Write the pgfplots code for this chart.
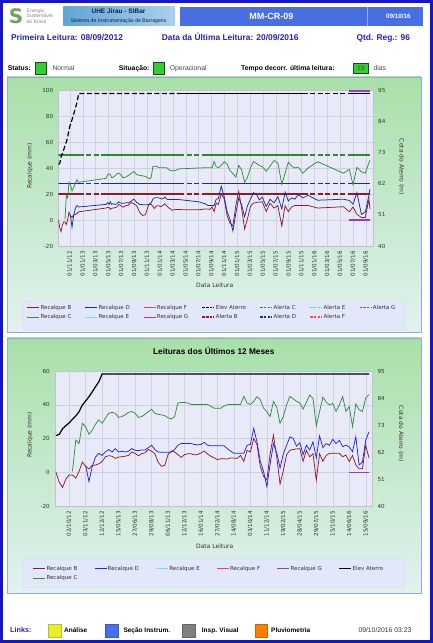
\documentclass[border=0pt]{standalone}
\usepackage{pgfplots}
\pgfplotsset{compat=1.18}
\usepackage{pgfplotstable}
\usepackage{fontspec}
\setmainfont{DejaVu Sans}
\newfontfamily\arial{Liberation Sans}
\newcommand\fs[1]{\fontsize{#1}{#1}\selectfont}

\definecolor{frameblue}{RGB}{22,22,200}
\definecolor{hdrtext}{RGB}{35,35,195}
\definecolor{boxblue}{RGB}{72,110,228}
\definecolor{uheL}{RGB}{95,165,215}
\definecolor{uheR}{RGB}{170,208,236}
\definecolor{navy}{RGB}{20,30,70}
\definecolor{panTop}{RGB}{168,224,168}
\definecolor{panMid}{RGB}{208,236,214}
\definecolor{panBot}{RGB}{226,241,240}
\definecolor{panEdge}{RGB}{150,172,205}
\definecolor{plotbg}{RGB}{232,235,247}
\definecolor{gridc}{RGB}{206,209,224}
\definecolor{axisc}{RGB}{190,194,210}
\definecolor{legbg}{RGB}{226,231,249}
\definecolor{legedge}{RGB}{205,212,236}
\definecolor{tickc}{RGB}{50,50,50}
\definecolor{stgreen}{RGB}{50,205,50}
\definecolor{cB}{RGB}{140,28,42}
\definecolor{cC}{RGB}{52,140,62}
\definecolor{cD}{RGB}{30,45,150}
\definecolor{cDb}{RGB}{35,35,240}
\definecolor{cE}{RGB}{120,222,240}
\definecolor{cF}{RGB}{240,70,70}
\definecolor{cG}{RGB}{150,60,200}
\definecolor{aB}{RGB}{140,28,42}
\definecolor{aC}{RGB}{40,140,40}
\definecolor{aD}{RGB}{30,40,150}
\definecolor{aE}{RGB}{70,210,225}
\definecolor{aF}{RGB}{250,70,100}
\definecolor{aG}{RGB}{160,50,200}
\definecolor{lkyellow}{RGB}{230,240,40}
\definecolor{lkblue}{RGB}{74,110,240}
\definecolor{lkgray}{RGB}{128,128,128}
\definecolor{lkorange}{RGB}{255,128,0}
\definecolor{logog}{RGB}{125,138,138}

\pgfplotstableread{
i m B C D E G
0 0.23 0 nan nan 68.7 nan
1 0.43 -6 nan nan 69.2 nan
2 0.63 -9 nan nan 71.5 nan
3 0.83 -4 nan nan 72.7 nan
4 1.03 -1.6 nan nan 73.9 nan
5 1.24 -1.6 0.5 nan 75.3 nan
6 1.45 -3.5 19 nan 76.7 nan
7 1.66 0.5 17 nan 78.4 nan
8 1.86 6 29 nan 81.1 nan
9 2.07 3.5 27 4 82.8 nan
10 2.33 2 22.5 -5.5 84.5 nan
11 2.59 4 25 3.5 86.5 nan
12 2.85 4.3 28.5 9 88.6 nan
13 3.11 5 31 11.2 90.6 nan
14 3.37 6.3 29 10 93.8 nan
15 7.60 9.2 32 12 93.8 nan
16 7.90 9.8 35 13.5 93.8 nan
17 8.10 9.5 35.5 12 93.8 nan
18 8.30 8.2 35 14 93.8 nan
19 8.47 9 32.5 12 93.8 nan
20 8.75 9.2 33 12.5 93.8 nan
21 9.03 9.5 34 12 93.8 nan
22 9.31 10 35.5 12.5 93.8 nan
23 9.59 12 36 14 93.8 nan
24 9.87 11.2 35 13 93.8 nan
25 10.28 9.8 32.5 12.8 93.8 nan
26 10.69 11 33 13.2 93.8 nan
27 11.10 11.5 34.3 13.2 93.8 nan
28 11.52 13.5 35.9 14.5 93.8 nan
29 11.93 12.5 37.3 16 93.8 nan
30 12.38 11 35 13.5 93.8 nan
31 12.83 6 34.3 12 93.8 nan
32 13.28 3.5 34 11.8 93.8 nan
33 13.72 4 33.5 11.8 93.8 nan
34 14.17 10.5 32.3 11.8 93.8 nan
35 14.41 12.6 31.6 12 93.8 nan
36 14.65 12 33 13.5 93.8 nan
37 14.89 10.5 41 16 93.8 nan
38 15.13 8.8 41.4 17 93.8 nan
39 15.37 10.4 41.4 17.1 93.8 nan
40 15.60 11 41 17.1 93.8 nan
41 15.82 11 40.2 17 93.8 nan
42 16.05 10.3 40.2 16.5 93.8 nan
43 16.27 10.5 40.2 16.2 93.8 nan
44 16.50 11.5 40.2 16.5 93.8 nan
45 16.77 12.5 40.2 17.7 93.8 nan
46 17.05 10.8 40.2 16 93.8 nan
47 17.32 9.5 39 15.7 93.8 nan
48 17.60 8.6 38 15.7 93.8 nan
49 17.87 7.5 37.9 15.7 93.8 nan
50 18.30 8 37.9 15.7 93.8 nan
51 19.00 8 39.3 15.7 93.8 nan
52 22.00 7.8 40 14 93.8 nan
53 23.00 8.5 40.2 12.5 93.8 nan
54 23.43 8.4 40.2 11.2 93.8 nan
55 23.76 8.2 40.2 11.2 93.8 nan
56 24.09 10 40.2 11.2 93.8 nan
57 24.41 6.5 45 11.2 93.8 nan
58 24.74 13 41 16 93.8 nan
59 25.07 12 40.2 16.5 93.8 nan
60 25.52 20 42 26 93.8 nan
61 25.97 16.5 44.8 18 93.8 nan
62 26.43 3.5 43 6.5 93.8 nan
63 26.88 -2.5 38 0.5 93.8 nan
64 27.33 -4.6 35.8 -8.5 93.8 nan
65 27.78 11 33 5 93.8 nan
66 28.24 22 42 17 93.8 nan
67 28.69 9 38.5 11.5 93.8 nan
68 29.15 -7 29 2.5 93.8 nan
69 29.60 1 33 11 93.8 nan
70 30.06 10.5 40 16 93.8 nan
71 30.52 13 45 21 93.8 nan
72 30.98 13.5 43.5 20 93.8 nan
73 31.44 13.8 42 15.5 93.8 nan
74 31.90 14 41 17.5 93.8 nan
75 32.51 6.5 37.5 10.5 93.8 nan
76 33.11 13 41.5 16 93.8 nan
77 33.72 9.2 45.8 13.2 93.8 nan
78 34.32 11 43.8 18 93.8 nan
79 34.93 -4.6 27.5 8.5 93.8 nan
80 35.44 11 36 21.5 93.8 nan
81 35.94 6.5 44.5 14.6 93.8 nan
82 36.45 10 41.5 17 93.8 nan
83 36.96 11.2 40 16 93.8 nan
84 37.47 11.2 40.8 19.5 93.8 nan
85 38.20 11.2 36 17 93.8 nan
86 39.00 11.2 40 19 93.8 nan
87 40.50 9.2 44.8 15.2 93.8 nan
88 44.50 10.2 36 16 93.8 nan
89 45.43 6.3 38.9 15 93.8 0
90 46.00 10 27 12.2 93.8 0
91 46.60 4.3 40.5 21 93.8 0
92 47.30 2 37 4.3 93.8 0
93 47.90 2 36 6 93.8 0
94 48.47 16 44 19 93.8 0
95 48.63 8.5 46 24 93.8 0
}\data

\pgfplotsset{
  chartbase/.style={
    scale only axis,
    axis background/.style={fill=plotbg},
    grid=major, grid style={draw=gridc, line width=0.4pt},
    axis line style={draw=axisc, line width=0.4pt},
    major tick length=0pt,
    tick style={draw=none},
    ticklabel style={font=\fs{5.6}, text=tickc, inner sep=0pt},
    xticklabel shift=5pt, yticklabel shift=5pt,
    xticklabel style={rotate=90, anchor=east},
    /pgf/number format/assume math mode=true,
  },
  rightbase/.style={
    scale only axis, axis y line*=right, axis x line=none,
    axis line style={draw=none}, major tick length=0pt, tick style={draw=none},
    ymin=40, ymax=95, ytick={40,51,62,73,84,95},
    ticklabel style={font=\fs{5.6}, text=tickc, inner sep=0pt},
    yticklabel shift=5pt,
    /pgf/number format/assume math mode=true,
  },
  datal/.style={line width=0.75pt},
  alert/.style={line width=1.2pt},
  sparse/.style={dash pattern=on 5pt off 2.5pt},
  legdash/.style={line width=1.2pt, dash pattern=on 2.5pt off 1.2pt},
  legbase/.style={
    legend cell align=left,
    legend image code/.code={\draw[##1] (0pt,0pt) -- (12pt,0pt);},
    legend style={fill=none, draw=none, font=\fs{5.5}, text=tickc,
      inner xsep=0pt, inner ysep=0pt, row sep=1.8pt, nodes={inner sep=0.8pt}},
  },
}
% alert line: dense stretches solid, sparse stretches dashed
\newcommand\alertline[2]{%
  \addplot[#1, alert, forget plot] coordinates {(0.23,#2) (3.37,#2)};
  \addplot[#1, alert, sparse, forget plot] coordinates {(3.37,#2) (7.6,#2)};
  \addplot[#1, alert, forget plot] coordinates {(7.6,#2) (19.0,#2)};
  \addplot[#1, alert, sparse, forget plot] coordinates {(19.0,#2) (23.0,#2)};
  \addplot[#1, alert, forget plot] coordinates {(23.0,#2) (38.2,#2)};
  \addplot[#1, alert, sparse, forget plot] coordinates {(38.2,#2) (45.43,#2)};
  \addplot[#1, alert, forget plot] coordinates {(45.43,#2) (48.63,#2)};
}

\begin{document}
\begin{tikzpicture}[x=1pt,y=1pt]
\path[use as bounding box] (0pt,0pt) rectangle (433pt,643pt);
\fill[white] (0pt,0pt) rectangle (433pt,643pt);

% ---------- header ----------
\node[font=\bfseries\fs{20}, text={rgb,255:red,105;green,165;blue,95}] at (16pt,627pt) {S};
\node[anchor=west, align=left, font=\arial\fontsize{5}{5.6}\selectfont, text=logog, inner sep=0pt] at (26.5pt,626.8pt) {Energia\\Sustentável\\do Brasil};
\shade[left color=uheL, right color=uheR] (63.3pt,636pt) rectangle (175pt,617.3pt);
\node[anchor=base, font=\arial\bfseries\fs{6.5}, text=navy] at (118.5pt,629pt) {UHE Jirau - SIBar};
\node[anchor=base, font=\arial\fs{5.2}, text=navy] at (118.5pt,620.6pt) {Sistema de Instrumentação de Barragens};
\fill[boxblue] (180pt,636pt) rectangle (423pt,617pt);
\draw[white!45!boxblue, line width=0.8pt] (367.3pt,636pt) -- (367.3pt,617pt);
\node[anchor=base, font=\arial\bfseries\fs{9}, text=white] at (271.3pt,623.2pt) {MM-CR-09};
\node[anchor=base, font=\arial\bfseries\fs{6.3}, text=white] at (398.3pt,624pt) {09/10/16};

\node[anchor=base west, font=\arial\bfseries\fs{8.4}, text=hdrtext] at (7.5pt,602.7pt) {Primeira Leitura: 08/09/2012};
\node[anchor=base west, font=\arial\bfseries\fs{8.4}, text=hdrtext] at (158.3pt,602.7pt) {Data da Última Leitura: 20/09/2016};
\node[anchor=base east, font=\arial\bfseries\fs{8.4}, text=hdrtext] at (413.5pt,602.7pt) {Qtd. Reg.: 96};

\node[anchor=base west, font=\arial\bfseries\fs{6.8}, inner sep=0pt] at (7.7pt,572.7pt) {Status:};
\filldraw[fill=stgreen, draw={rgb,255:red,30;green,70;blue,30}, line width=0.6pt] (35pt,580.7pt) rectangle (46pt,569pt);
\node[anchor=base west, font=\arial\fs{6.8}, text={rgb,255:red,70;green,70;blue,70}, inner sep=0pt] at (52.3pt,572.7pt) {Normal};
\node[anchor=base west, font=\arial\bfseries\fs{6.8}, inner sep=0pt] at (118.7pt,572.7pt) {Situação:};
\filldraw[fill=stgreen, draw={rgb,255:red,30;green,70;blue,30}, line width=0.6pt] (153.7pt,580.7pt) rectangle (164.3pt,569pt);
\node[anchor=base west, font=\arial\fs{6.8}, text={rgb,255:red,70;green,70;blue,70}, inner sep=0pt] at (169.7pt,572.7pt) {Operacional};
\node[anchor=base west, font=\arial\bfseries\fs{6.8}, inner sep=0pt] at (241pt,572.7pt) {Tempo decorr. última leitura:};
\filldraw[fill=stgreen, draw={rgb,255:red,30;green,70;blue,30}, line width=0.6pt] (353.3pt,580pt) rectangle (368.3pt,569.7pt);
\node[anchor=base, font=\arial\fs{6.8}, text={rgb,255:red,70;green,80;blue,20}, inner sep=0pt] at (360.8pt,572.7pt) {19};
\node[anchor=base west, font=\arial\fs{6.8}, text={rgb,255:red,70;green,70;blue,70}, inner sep=0pt] at (373.3pt,572.7pt) {dias};

% ---------- panels ----------
\shadedraw[top color=panTop, middle color=panMid, bottom color=panBot, draw=panEdge, line width=0.6pt] (7pt,566pt) rectangle (421pt,311pt);
\shadedraw[top color=panTop, middle color=panMid, bottom color=panBot, draw=panEdge, line width=0.6pt] (7pt,305pt) rectangle (421pt,50pt);
% legend boxes
\filldraw[fill=legbg, draw=legedge, line width=0.4pt, rounded corners=1.5pt] (22.7pt,342pt) rectangle (405pt,313pt);
\filldraw[fill=legbg, draw=legedge, line width=0.4pt, rounded corners=1.5pt] (23pt,84pt) rectangle (405pt,55pt);

% ---------- chart 1 ----------
\begin{axis}[chartbase, legbase,
  at={(58.3pt,397pt)}, anchor=south west, width=314.7pt, height=156pt,
  xmin=0.2, xmax=49.1, ymin=-20, ymax=100, ytick={-20,0,...,100},
  xtick={2,4,...,48},
  xticklabels={01/11/12,01/01/13,01/03/13,01/05/13,01/07/13,01/09/13,01/11/13,01/01/14,01/03/14,01/05/14,01/07/14,01/09/14,01/11/14,01/01/15,01/03/15,01/05/15,01/07/15,01/09/15,01/11/15,01/01/16,01/03/16,01/05/16,01/07/16,01/09/16},
  legend columns=7,
  legend style={at={(-0.1,-0.372)}, anchor=north west, /tikz/every even column/.append style={column sep=12.8pt}},
]
\alertline{aC}{50}
\alertline{aD}{28}
\alertline{aB}{20}
\addplot[aG, alert, forget plot] coordinates {(45.43,99.3) (48.63,99.3)};
\addplot[cC, datal, forget plot] table[x=m, y=C] {\data};
\addplot[cB, datal, forget plot] table[x=m, y=B] {\data};
\addplot[cD, datal, forget plot] table[x=m, y=D] {\data};
\addplot[cG, line width=1.2pt, forget plot] table[x=m, y=G] {\data};
\addlegendimage{cB, datal}\addlegendentry{Recalque B}
\addlegendimage{cD, datal}\addlegendentry{Recalque D}
\addlegendimage{cF, datal}\addlegendentry{Recalque F}
\addlegendimage{black, legdash}\addlegendentry{Elev Aterro}
\addlegendimage{aC, legdash}\addlegendentry{Alerta C}
\addlegendimage{aE, legdash}\addlegendentry{Alerta E}
\addlegendimage{aG, legdash}\addlegendentry{Alerta G}
\addlegendimage{cC, datal}\addlegendentry{Recalque C}
\addlegendimage{cE, datal}\addlegendentry{Recalque E}
\addlegendimage{cG, datal}\addlegendentry{Recalque G}
\addlegendimage{aB, legdash}\addlegendentry{Alerta B}
\addlegendimage{aD, legdash}\addlegendentry{Alerta D}
\addlegendimage{aF, legdash}\addlegendentry{Alerta F}
\end{axis}
\begin{axis}[rightbase,
  at={(58.3pt,397pt)}, anchor=south west, width=314.7pt, height=156pt,
  xmin=0.2, xmax=49.1]
\addplot[black, alert, sparse, restrict x to domain=0:19] table[x=m, y=E] {\data};
\addplot[black, alert, restrict x to domain=19:38.2] table[x=m, y=E] {\data};
\addplot[black, alert, sparse, restrict x to domain=38.2:45.43] table[x=m, y=E] {\data};
\addplot[black, alert, restrict x to domain=45.43:49] table[x=m, y=E] {\data};
\end{axis}
\node[rotate=90, font=\fs{6}, text=tickc] at (30pt,477pt) {Recalque (mm)};
\node[rotate=-90, font=\fs{6}, text=tickc] at (401.5pt,476pt) {Cota do Aterro (m)};
\node[font=\fs{6}, text=tickc] at (214.7pt,358pt) {Data Leitura};

% ---------- chart 2 ----------
\node[font=\arial\bfseries\fs{8.3}] at (213.8pt,292pt) {Leituras dos Últimos 12 Meses};
\begin{axis}[chartbase, legbase,
  at={(55pt,137pt)}, anchor=south west, width=317.3pt, height=135pt,
  xmin=-0.3, xmax=96, ymin=-20, ymax=60, ytick={-20,0,...,60},
  xtick={4,9,...,94},
  xticklabels={02/10/12,03/11/12,12/12/12,15/05/13,27/06/13,29/08/13,06/11/13,12/12/13,16/01/14,27/02/14,14/08/14,03/10/14,11/12/14,19/02/15,28/04/15,29/07/15,15/10/15,14/06/16,15/09/16},
  legend columns=6,
  legend style={at={(-0.07,-0.437)}, anchor=north west, /tikz/every even column/.append style={column sep=16pt}},
]
\addplot[cC, datal, forget plot] table[x=i, y=C] {\data};
\addplot[cB, datal, forget plot] table[x=i, y=B] {\data};
\addplot[cDb, datal, forget plot] table[x=i, y=D] {\data};
\addplot[cG, line width=1.2pt, forget plot] table[x=i, y=G] {\data};
\addlegendimage{cB, datal}\addlegendentry{Recalque B}
\addlegendimage{cDb, datal}\addlegendentry{Recalque D}
\addlegendimage{cE, datal}\addlegendentry{Recalque E}
\addlegendimage{cF, datal}\addlegendentry{Recalque F}
\addlegendimage{cG, datal}\addlegendentry{Recalque G}
\addlegendimage{black, line width=1.2pt}\addlegendentry{Elev Aterro}
\addlegendimage{cC, datal}\addlegendentry{Recalque C}
\end{axis}
\begin{axis}[rightbase,
  at={(55pt,137pt)}, anchor=south west, width=317.3pt, height=135pt,
  xmin=-0.3, xmax=96]
\addplot[black, line width=1.2pt] table[x=i, y=E] {\data};
\end{axis}
\node[rotate=90, font=\fs{6}, text=tickc] at (30pt,208pt) {Recalque (mm)};
\node[rotate=-90, font=\fs{6}, text=tickc] at (401pt,209pt) {Cota do Aterro (m)};
\node[font=\fs{6}, text=tickc] at (214.7pt,97pt) {Data Leitura};

% ---------- footer ----------
\node[anchor=base west, font=\arial\bfseries\fs{7.2}, text=hdrtext, inner sep=0pt] at (10pt,10.5pt) {Links:};
\filldraw[fill=lkyellow, draw=lkyellow!80!black, line width=0.3pt] (47.7pt,19pt) rectangle (60.7pt,5.7pt);
\node[anchor=base west, font=\arial\bfseries\fs{6.5}, inner sep=0pt] at (64pt,10.5pt) {Análise};
\filldraw[fill=lkblue, draw=lkblue!80!black, line width=0.3pt] (105pt,19pt) rectangle (117.7pt,5.7pt);
\node[anchor=base west, font=\arial\bfseries\fs{6.5}, inner sep=0pt] at (123.3pt,10.5pt) {Seção Instrum.};
\filldraw[fill=lkgray, draw=lkgray!80!black, line width=0.3pt] (182.3pt,19pt) rectangle (195pt,5.7pt);
\node[anchor=base west, font=\arial\bfseries\fs{6.5}, inner sep=0pt] at (201.7pt,10.5pt) {Insp. Visual};
\filldraw[fill=lkorange, draw=lkorange!80!black, line width=0.3pt] (255pt,19pt) rectangle (266.7pt,5.7pt);
\node[anchor=base west, font=\arial\bfseries\fs{6.5}, inner sep=0pt] at (271pt,10.5pt) {Pluviometria};
\node[anchor=base west, font=\arial\fs{6.8}, text={rgb,255:red,50;green,50;blue,50}, inner sep=0pt] at (358.3pt,10.5pt) {09/10/2016 03:23};

% ---------- outer frame ----------
\draw[frameblue, line width=2.6pt] (1.3pt,1.3pt) rectangle (431.7pt,641.7pt);
\end{tikzpicture}
\end{document}
